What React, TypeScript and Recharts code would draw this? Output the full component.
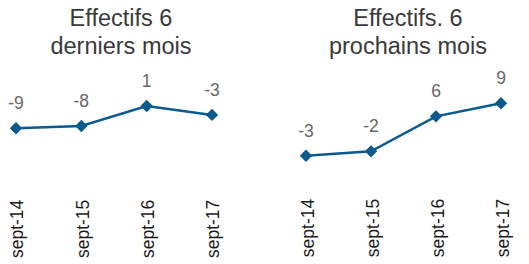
import React from 'react';
import { LineChart, Line, XAxis, YAxis, LabelList } from 'recharts';

const categories = ['sept-14', 'sept-15', 'sept-16', 'sept-17'];
const pastValues = [-9, -8, 1, -3];
const nextValues = [-3, -2, 6, 9];
const pastTitle = ['Effectifs 6', 'derniers mois'];
const nextTitle = ['Effectifs. 6', 'prochains mois'];

const pastData = categories.map((c, i) => ({ cat: c, v: pastValues[i] }));
const nextData = categories.map((c, i) => ({ cat: c, v: nextValues[i] }));

const FONT = '"Liberation Sans", Arial, sans-serif';
const LINE = '#0b5a8e';

const Diamond = (props: any) => {
  const { cx, cy, index } = props;
  if (cx == null || cy == null) return <g key={index} />;
  const r = 6.2;
  return (
    <path
      key={index}
      d={`M${cx},${cy - r}L${cx + r},${cy}L${cx},${cy + r}L${cx - r},${cy}Z`}
      fill={LINE}
    />
  );
};

const makeTick = (shift: number) => (props: any) => {
  const { x, y, payload } = props;
  const ty = y + shift;
  return (
    <text
      x={x}
      y={ty}
      dy={7.5}
      textAnchor="end"
      transform={`rotate(-90, ${x}, ${ty})`}
      fontSize={17.5}
      fontFamily={FONT}
      fill="#1a1a1a"
    >
      {payload.value}
    </text>
  );
};

type PanelProps = {
  data: { cat: string; v: number }[];
  width: number;
  margin: { top: number; right: number; bottom: number; left: number };
  domain: [number, number];
  tickShift: number;
};

const Panel = ({ data, width, margin, domain, tickShift }: PanelProps) => (
  <LineChart width={width} height={264} data={data} margin={margin}>
    <XAxis
      dataKey="cat"
      height={60}
      axisLine={false}
      tickLine={false}
      tickSize={0}
      tickMargin={0}
      interval={0}
      tick={makeTick(tickShift)}
    />
    <YAxis hide domain={domain} type="number" />
    <Line
      type="linear"
      dataKey="v"
      stroke={LINE}
      strokeWidth={2.5}
      dot={Diamond}
      activeDot={false}
      isAnimationActive={false}
    >
      <LabelList
        dataKey="v"
        position="top"
        offset={19}
        fill="#6b6566"
        fontSize={17.5}
        fontFamily={FONT}
      />
    </Line>
  </LineChart>
);

const Title = ({ lines, left, width }: { lines: string[]; left: number; width: number }) => (
  <div
    style={{
      position: 'absolute',
      left,
      top: 3.5,
      width,
      textAlign: 'center',
      fontFamily: FONT,
      fontSize: 23.5,
      lineHeight: '28px',
      color: '#3a3a3a',
    }}
  >
    {lines.map((l) => (
      <div key={l}>{l}</div>
    ))}
  </div>
);

export default function App() {
  return (
    <div style={{ position: 'absolute', left: 0, top: 0, width: 529, height: 264, background: '#fff' }}>
      <div style={{ position: 'absolute', left: 0, top: 0 }}>
        <Panel
          data={pastData}
          width={264}
          margin={{ top: 85.9, right: 52, bottom: 28.9, left: 16 }}
          domain={[-30, 10]}
          tickShift={24.6}
        />
      </div>
      <div style={{ position: 'absolute', left: 264, top: 0 }}>
        <Panel
          data={nextData}
          width={265}
          margin={{ top: 90.15, right: 28, bottom: 26.45, left: 42 }}
          domain={[-8, 12]}
          tickShift={21.2}
        />
      </div>
      <Title lines={pastTitle} left={0} width={242} />
      <Title lines={nextTitle} left={264} width={288} />
    </div>
  );
}
